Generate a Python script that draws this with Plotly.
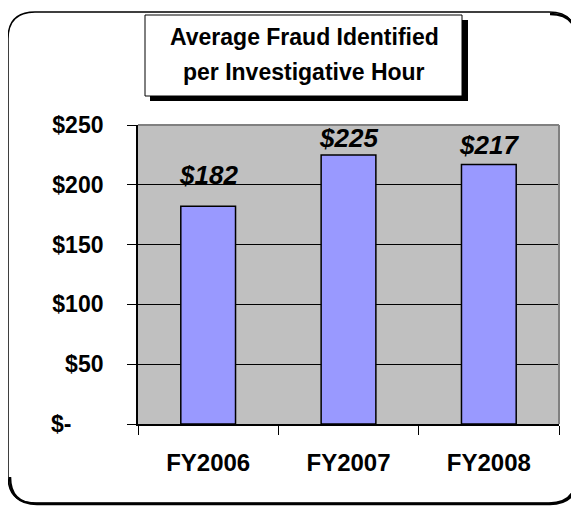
import plotly.graph_objects as go

categories = ["FY2006", "FY2007", "FY2008"]
values = [182, 225, 217]
value_labels = ["$182", "$225", "$217"]
tick_vals = [0, 50, 100, 150, 200, 250]
tick_text = ["$-", "$50", "$100", "$150", "$200", "$250"]
title_lines = ["Average Fraud Identified", "per Investigative Hour"]

# The page body has an 8px margin, so the figure starts at page (8, 8).
OFF = 8
W, H = 579 - OFF, 506 - OFF
# plot area in page pixels: x 138..559, y 125..424
ML, MT = 138 - OFF, 125 - OFF
MR, MB = W - (559 - OFF), H - (424 - OFF)
PW, PH = W - ML - MR, H - MT - MB

def px(x):
    return (x - OFF - ML) / PW

def py(y):
    return (H - MB - (y - OFF)) / PH

FONT = "Liberation Sans, Arial, sans-serif"
NB = "\u00a0"
tick_text_padded = [t + NB * (8 if t == "$-" else 3) for t in tick_text]

fig = go.Figure()
fig.add_trace(go.Bar(
    x=categories, y=values,
    marker=dict(color="#9999FF", line=dict(color="black", width=1.5)),
    width=0.39, hoverinfo="skip",
))

label_shift = [14, 0, 2]
for c, v, t, s in zip(categories, values, value_labels, label_shift):
    fig.add_annotation(x=c, y=v, text=t, showarrow=False, yanchor="bottom",
                       yshift=s, font=dict(family=FONT, size=26, color="black",
                                           weight="bold", style="italic"))

def rrect_path(x0, y0, x1, y1, r):
    return (f"M {px(x0+r)} {py(y0)} L {px(x1-r)} {py(y0)} "
            f"Q {px(x1)} {py(y0)} {px(x1)} {py(y0+r)} "
            f"L {px(x1)} {py(y1-r)} Q {px(x1)} {py(y1)} {px(x1-r)} {py(y1)} "
            f"L {px(x0+r)} {py(y1)} Q {px(x0)} {py(y1)} {px(x0)} {py(y1-r)} "
            f"L {px(x0)} {py(y0+r)} Q {px(x0)} {py(y0)} {px(x0+r)} {py(y0)} Z")

def shadow_path(x0, y0, x1, y1, r):
    return (f"M {px(x1-r)} {py(y0)} Q {px(x1)} {py(y0)} {px(x1)} {py(y0+r)} "
            f"L {px(x1)} {py(y1-r)} Q {px(x1)} {py(y1)} {px(x1-r)} {py(y1)} "
            f"L {px(x0+r)} {py(y1)} Q {px(x0)} {py(y1)} {px(x0)} {py(y1-r)}")

shapes = [
    dict(type="path", xref="paper", yref="paper", path=shadow_path(10, 14, 577, 504, 27),
         line=dict(color="black", width=2.5), layer="above"),
    dict(type="path", xref="paper", yref="paper", path=rrect_path(8, 12, 576, 503, 27),
         line=dict(color="black", width=1.5), layer="above"),
    dict(type="line", xref="paper", yref="paper", x0=0, x1=1, y0=1, y1=1,
         line=dict(color="#808080", width=2), layer="above"),
    dict(type="line", xref="paper", yref="paper", x0=1, x1=1, y0=0, y1=1,
         line=dict(color="#808080", width=2), layer="above"),
    dict(type="rect", xref="paper", yref="paper", x0=px(150), x1=px(468), y0=py(101), y1=py(20),
         fillcolor="black", line=dict(width=0), layer="above"),
    dict(type="rect", xref="paper", yref="paper", x0=px(145), x1=px(462), y0=py(96), y1=py(15),
         fillcolor="white", line=dict(color="black", width=1), layer="above"),
]

fig.add_annotation(xref="paper", yref="paper", x=px(304), y=py(37), text=title_lines[0],
                   showarrow=False, xanchor="center", yanchor="middle",
                   font=dict(family=FONT, size=23, color="black", weight="bold"))
fig.add_annotation(xref="paper", yref="paper", x=px(304), y=py(72), text=title_lines[1],
                   showarrow=False, xanchor="center", yanchor="middle",
                   font=dict(family=FONT, size=23, color="black", weight="bold"))

fig.update_layout(
    width=W, height=H,
    margin=dict(l=ML, r=MR, t=MT, b=MB, pad=0),
    paper_bgcolor="white", plot_bgcolor="#C0C0C0",
    showlegend=False, shapes=shapes,
    bargap=0.61,
    xaxis=dict(showline=True, linecolor="black", linewidth=1.5, ticks="outside",
               tickson="boundaries", ticklen=9, tickcolor="black", tickwidth=1,
               tickfont=dict(family=FONT, size=24, color="black", weight="bold"),
               ticklabelstandoff=16, showgrid=False, zeroline=False, fixedrange=True),
    yaxis=dict(range=[0, 250], tickvals=tick_vals, ticktext=tick_text_padded,
               showline=True, linecolor="black", linewidth=1.5, ticks="outside",
               ticklen=9, tickcolor="black", tickwidth=1,
               showgrid=True, gridcolor="black", gridwidth=1, zeroline=False,
               tickfont=dict(family=FONT, size=23, color="black", weight="bold"),
               fixedrange=True),
)

fig.write_html("out.html")
